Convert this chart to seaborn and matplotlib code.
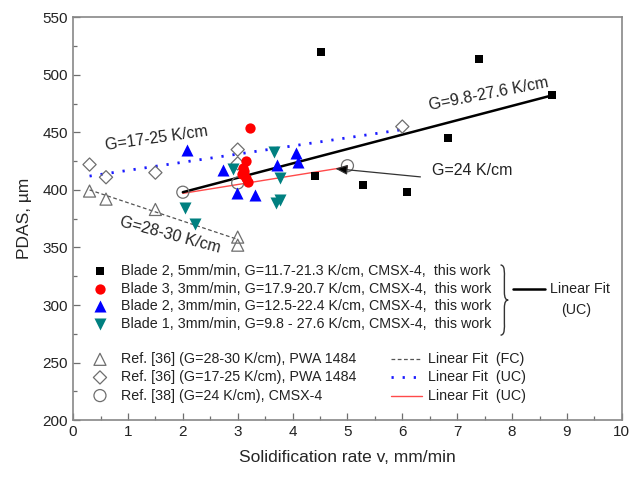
import matplotlib as mpl
import matplotlib.pyplot as plt
import numpy as np
import pandas as pd
import seaborn as sns
from matplotlib.path import Path
from matplotlib.patches import PathPatch

# --- data ---
blade2_5_v = [4.41, 4.52, 5.29, 6.09, 6.84, 7.39, 8.72]
blade2_5_pdas = [412, 520, 404, 398, 445, 514, 482]

blade3_3_v = [3.22, 3.15, 3.10, 3.07, 3.16, 3.18, 3.12]
blade3_3_pdas = [454, 425, 419, 414, 410, 407, 416]

blade2_3_v = [2.07, 2.74, 2.98, 3.32, 3.72, 4.06, 4.10]
blade2_3_pdas = [435, 417, 397, 396, 422, 432, 424]

blade1_3_v = [2.04, 2.22, 2.92, 3.66, 3.78, 3.70, 3.77]
blade1_3_pdas = [384, 370, 418, 433, 410, 389, 391]

ref36_fc_v = [0.3, 0.6, 1.5, 3.0, 3.0]
ref36_fc_pdas = [399, 392, 383, 359, 352]

ref36_uc_v = [0.3, 0.6, 1.5, 3.0, 3.0, 6.0]
ref36_uc_pdas = [422, 411, 415, 435, 423, 455]

ref38_v = [2.0, 3.0, 5.0]
ref38_pdas = [398, 406, 421]

# linear fits (end points)
fit_work_v, fit_work_pdas = [2.0, 8.72], [398, 482]
fit_fc_v, fit_fc_pdas = [0.3, 3.0], [400, 357]
fit_uc_v, fit_uc_pdas = [0.3, 5.95], [412, 452]
fit_ref38_v, fit_ref38_pdas = [2.0, 5.0], [397, 420]

work_labels = [
    "Blade 2, 5mm/min, G=11.7-21.3 K/cm, CMSX-4,  this work",
    "Blade 3, 3mm/min, G=17.9-20.7 K/cm, CMSX-4,  this work",
    "Blade 2, 3mm/min, G=12.5-22.4 K/cm, CMSX-4,  this work",
    "Blade 1, 3mm/min, G=9.8 - 27.6 K/cm, CMSX-4,  this work",
]
ref_labels = [
    "Ref. [36] (G=28-30 K/cm), PWA 1484",
    "Ref. [36] (G=17-25 K/cm), PWA 1484",
    "Ref. [38] (G=24 K/cm), CMSX-4",
]
fit_labels = ["Linear Fit  (FC)", "Linear Fit  (UC)", "Linear Fit  (UC)"]

GRAY = "#6e6e6e"
TEAL = "#008080"

sns.set_style("ticks")
plt.rcParams["font.family"] = ["Liberation Sans", "DejaVu Sans"]
plt.rcParams["text.color"] = "#222222"

fig, ax = plt.subplots(figsize=(6.3, 4.78), dpi=100)
fig.subplots_adjust(left=0.116, right=0.987, top=0.964, bottom=0.121)

# --- fit lines ---
sns.lineplot(x=fit_fc_v, y=fit_fc_pdas, color="#555555", lw=0.9,
             linestyle=(0, (3, 2)), ax=ax)
sns.lineplot(x=fit_uc_v, y=fit_uc_pdas, color="#1a1aff", lw=2.0,
             linestyle=(0, (0.8, 3.2)), ax=ax)
sns.lineplot(x=fit_ref38_v, y=fit_ref38_pdas, color="#ff4a4a", lw=1.0, ax=ax)
sns.lineplot(x=fit_work_v, y=fit_work_pdas, color="black", lw=1.8, ax=ax)

# --- reference data (open markers) ---
open_series = [
    (ref36_fc_v, ref36_fc_pdas, "^", 75),
    (ref36_uc_v, ref36_uc_pdas, "D", 45),
    (ref38_v, ref38_pdas, "o", 75),
]
for v, p, m, s in open_series:
    sns.scatterplot(x=v, y=p, marker=m, s=s, color=GRAY, linewidth=0.9,
                    edgecolor=GRAY, ax=ax, zorder=3)
    ax.collections[-1].set_facecolor("none")

# --- this work ---
filled_series = [
    (blade2_5_v, blade2_5_pdas, "s", "black", 40),
    (blade3_3_v, blade3_3_pdas, "o", "#ff0000", 55),
    (blade2_3_v, blade2_3_pdas, "^", "#0000ff", 75),
    (blade1_3_v, blade1_3_pdas, "v", TEAL, 75),
]
for v, p, m, c, s in filled_series:
    sns.scatterplot(x=v, y=p, marker=m, s=s, color=c, linewidth=0, ax=ax,
                    zorder=4)

# --- annotations ---
ax.text(1.52, 445, "G=17-25 K/cm", rotation=8, ha="center", va="center",
        fontsize=11.5)
ax.text(1.77, 361, "G=28-30 K/cm", rotation=-15, ha="center", va="center",
        fontsize=11.5)
ax.text(7.58, 483, "G=9.8-27.6 K/cm", rotation=11, ha="center", va="center",
        fontsize=11.5)
ax.text(7.27, 417, "G=24 K/cm", ha="center", va="center", fontsize=11.5)
ax.annotate("", xy=(4.78, 418.5), xytext=(6.33, 411.3), zorder=6,
            arrowprops=dict(arrowstyle="-|>,head_length=0.6,head_width=0.25",
                            color="#555555", fc="black", ec="#333333", lw=0.9,
                            mutation_scale=12, shrinkA=0, shrinkB=0))

# --- hand-made legend ---
tr = ax.transAxes
rows_work = [0.370, 0.326, 0.283, 0.238]
for (v, p, m, c, s), y, lab in zip(filled_series, rows_work, work_labels):
    ax.scatter([0.049], [y], marker=m, s=s, color=c, linewidths=0,
               transform=tr, clip_on=False)
    ax.text(0.087, y, lab, transform=tr, va="center", fontsize=10.3)

rows_ref = [0.151, 0.106, 0.061]
for (v, p, m, s), y, lab in zip(open_series, rows_ref, ref_labels):
    ax.scatter([0.049], [y], marker=m, s=s, facecolor="none", edgecolor=GRAY,
               linewidths=0.9, transform=tr, clip_on=False)
    ax.text(0.087, y, lab, transform=tr, va="center", fontsize=10.3)

fit_styles = [
    dict(color="#555555", lw=0.9, linestyle=(0, (3, 2))),
    dict(color="#1a1aff", lw=2.0, linestyle=(0, (0.8, 3.2))),
    dict(color="#ff4a4a", lw=1.0),
]
for st, y, lab in zip(fit_styles, rows_ref, fit_labels):
    ax.plot([0.580, 0.635], [y, y], transform=tr, **st)
    ax.text(0.646, y, lab, transform=tr, va="center", fontsize=10.3)

# curly brace
bx, btop, bbot, bw = 0.779, 0.385, 0.211, 0.014
bmid = (btop + bbot) / 2
verts = [
    (bx, btop), (bx + bw * 0.6, btop), (bx + bw * 0.5, btop - 0.02),
    (bx + bw * 0.5, btop - 0.03),
    (bx + bw * 0.5, bmid + 0.02),
    (bx + bw * 0.5, bmid + 0.005), (bx + bw * 0.7, bmid), (bx + bw, bmid),
    (bx + bw * 0.7, bmid), (bx + bw * 0.5, bmid - 0.005), (bx + bw * 0.5, bmid - 0.02),
    (bx + bw * 0.5, bbot + 0.03),
    (bx + bw * 0.5, bbot + 0.02), (bx + bw * 0.6, bbot), (bx, bbot),
]
codes = [Path.MOVETO, Path.CURVE4, Path.CURVE4, Path.CURVE4, Path.LINETO,
         Path.CURVE4, Path.CURVE4, Path.CURVE4,
         Path.CURVE4, Path.CURVE4, Path.CURVE4, Path.LINETO,
         Path.CURVE4, Path.CURVE4, Path.CURVE4]
ax.add_patch(PathPatch(Path(verts, codes), transform=tr, fill=False,
                       lw=1.0, edgecolor="#333333", clip_on=False))
ax.plot([0.802, 0.860], [0.326, 0.326], transform=tr, color="black", lw=1.8)
ax.text(0.869, 0.326, "Linear Fit", transform=tr, va="center", fontsize=10.3)
ax.text(0.917, 0.273, "(UC)", transform=tr, va="center", ha="center",
        fontsize=10.3)

# --- axes ---
ax.set_xlim(0, 10)
ax.set_ylim(200, 550)
ax.xaxis.set_major_locator(mpl.ticker.MultipleLocator(1))
ax.xaxis.set_minor_locator(mpl.ticker.MultipleLocator(0.5))
ax.yaxis.set_major_locator(mpl.ticker.MultipleLocator(50))
ax.yaxis.set_minor_locator(mpl.ticker.MultipleLocator(25))
ax.tick_params(which="both", direction="in", colors=GRAY, labelcolor="#222222",
               labelsize=11)
ax.tick_params(which="major", length=5, width=0.9)
ax.tick_params(which="minor", length=3, width=0.9)
for sp in ax.spines.values():
    sp.set_visible(True)
    sp.set_color("#888888")
    sp.set_linewidth(1.2)
ax.set_xlabel("Solidification rate v, mm/min", fontsize=12.5, labelpad=8)
ax.set_ylabel("PDAS, µm", fontsize=12.5, labelpad=8)

plt.savefig("out.png", dpi=100)
